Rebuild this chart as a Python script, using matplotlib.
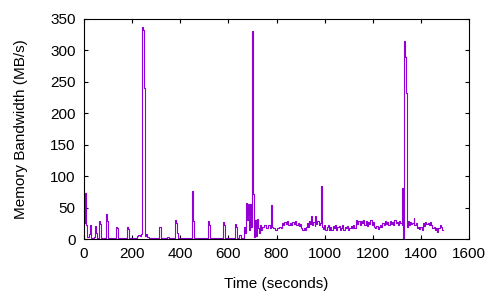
import matplotlib
matplotlib.use("Agg")
import matplotlib.pyplot as plt

# time (s) / bandwidth (MB/s) breakpoints (held until next point)
t_early = [0, 4, 8, 12, 20, 26, 30, 40, 46, 50, 54, 62, 66, 70, 90, 94, 98,
           132, 136, 142, 178, 182, 186, 220, 226, 232, 238, 242, 246, 249, 252,
           255, 258, 262, 270, 312, 316, 322, 345, 355, 380, 384, 388, 392,
           450, 453, 457, 514, 518, 522, 555, 565, 578, 582, 586, 626, 630, 636,
           644, 652, 666, 670, 674, 678, 682, 686, 690, 694, 697, 701, 704, 707,
           711, 715, 719, 723, 727, 731, 735, 739, 747, 755, 765, 772, 779, 783]
bw_early = [25, 73, 22, 3, 8, 22, 2, 3, 21, 10, 2, 29, 24, 2, 40, 29, 2,
            20, 18, 2, 20, 16, 2, 5, 7, 5, 8, 337, 333, 240, 130,
            5, 8, 3, 1, 20, 19, 1, 3, 1, 30, 25, 9, 1,
            76, 28, 1, 28, 22, 1, 2, 1, 27, 22, 1, 24, 20, 2,
            6, 1, 20, 10, 57, 30, 56, 15, 55, 20, 330, 299, 72, 3,
            30, 5, 32, 18, 10, 22, 15, 20, 22, 18, 22, 18, 54, 20]

t_late = [787, 795, 800, 806, 812, 818, 822, 828, 833, 838, 844, 849, 855, 860,
          866, 871, 877, 882, 888, 893, 898, 903, 908, 913, 918, 922, 926, 931,
          936, 941, 944, 948, 953, 958, 961, 965, 970, 975, 980, 984, 988, 993,
          998, 1003, 1008, 1013, 1018, 1023, 1028, 1033, 1038, 1043, 1048, 1053,
          1058, 1063, 1068, 1073, 1078, 1083, 1088, 1093, 1098, 1103, 1108, 1113,
          1118, 1124, 1130, 1135, 1140, 1145, 1150, 1155, 1160, 1165, 1170, 1175,
          1180, 1185, 1190, 1195, 1200, 1205, 1210, 1215, 1220, 1225, 1230, 1235,
          1240, 1245, 1250, 1255, 1260, 1265, 1270, 1275, 1280, 1285, 1290, 1295,
          1300, 1305, 1310, 1315, 1320, 1323, 1326, 1329, 1332, 1335, 1337, 1339,
          1341, 1345, 1350, 1355, 1360, 1365, 1370, 1373, 1378, 1383, 1388, 1393,
          1398, 1403, 1408, 1413, 1418, 1423, 1428, 1433, 1438, 1443, 1448, 1453,
          1458, 1463, 1468, 1473, 1478, 1483, 1487, 1490]
bw_late = [17, 15, 18, 17, 20, 17, 25, 22, 27, 24, 28, 23, 26, 22,
           27, 24, 28, 23, 26, 21, 24, 17, 14, 18, 15, 19, 25, 20,
           28, 24, 36, 22, 27, 21, 36, 24, 28, 23, 26, 84, 20, 16,
           22, 14, 19, 22, 15, 20, 14, 21, 17, 22, 15, 19,
           21, 14, 18, 22, 15, 20, 17, 21, 15, 18, 21, 17,
           22, 18, 30, 24, 29, 22, 28, 25, 30, 23, 28, 21,
           27, 24, 30, 22, 27, 20, 17, 21, 16, 20, 23, 19,
           25, 22, 28, 24, 27, 22, 29, 24, 27, 23, 30, 25,
           27, 22, 28, 25, 23, 81, 0, 315, 305, 290, 250, 232,
           20, 28, 22, 27, 24, 26, 33, 22, 26, 17, 20, 16,
           19, 15, 25, 21, 27, 24, 26, 22, 27, 23, 17, 20,
           15, 18, 12, 17, 22, 19, 15, 15]

x_ticks = [0, 200, 400, 600, 800, 1000, 1200, 1400, 1600]
y_ticks = [0, 50, 100, 150, 200, 250, 300, 350]

plt.rcParams["font.family"] = ["Liberation Sans", "DejaVu Sans"]
plt.rcParams["font.size"] = 11

fig = plt.figure(figsize=(5, 3), dpi=100)
ax = fig.add_axes([0.168, 0.203, 0.77, 0.734])

ax.plot(t_early + t_late, bw_early + bw_late, color="#9400D3",
        linewidth=0.8, drawstyle="steps-post")

ax.set_xlim(0, 1600)
ax.set_ylim(0, 350)
ax.set_xticks(x_ticks)
ax.set_yticks(y_ticks)
ax.tick_params(direction="in", length=3, width=0.8, top=True, right=True,
               labelsize=11, pad=6)
for s in ax.spines.values():
    s.set_linewidth(0.8)

ax.set_xlabel("Time (seconds)", fontsize=11, labelpad=11)
ax.set_ylabel("Memory Bandwidth (MB/s)", fontsize=11, labelpad=16)

fig.savefig("out.png", dpi=100)
